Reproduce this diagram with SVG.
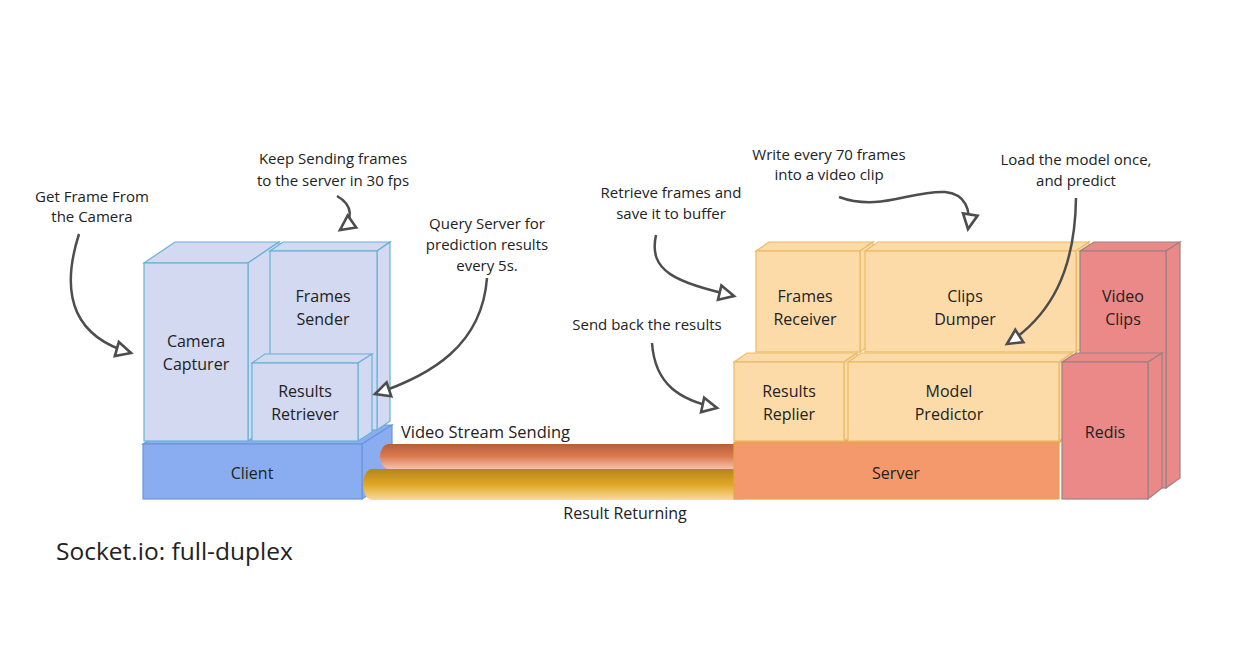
<svg xmlns="http://www.w3.org/2000/svg" width="1250" height="663" viewBox="0 0 1250 663">
<defs>
<style>
text{font-family:"Open Sans","Noto Sans","Liberation Sans",sans-serif;fill:#222}
.lbl{font-size:16px;text-anchor:middle}
.ann{font-size:15px;text-anchor:middle}
.blue{fill:#D2D9F0;stroke:#66B2D6;stroke-width:1.2}
.client{fill:#8AADF1;stroke:#6D93DA;stroke-width:1.2}
.peach{fill:#FCDBA9;stroke:#E9BB66;stroke-width:1.2}
.server{fill:#F4996B;stroke:#E8A24C;stroke-width:1.2}
.red{fill:#EB8888;stroke:#9A8282;stroke-width:1.2}
.conn{fill:none;stroke:#4D4D4D;stroke-width:2.5;marker-end:url(#ah)}
</style>
<marker id="ah" viewBox="0 0 20 20" refX="17" refY="10" markerWidth="21" markerHeight="21" markerUnits="userSpaceOnUse" orient="auto">
<path d="M3,3 L17,10 L3,17 Z" fill="#fff" stroke="#4D4D4D" stroke-width="2.5" stroke-linejoin="miter"/>
</marker>
<linearGradient id="gOrange" x1="0" y1="0" x2="0" y2="1">
<stop offset="0" stop-color="#B4603A"/>
<stop offset="0.5" stop-color="#DD7A50"/>
<stop offset="1" stop-color="#F6C2AE"/>
</linearGradient>
<linearGradient id="gYellow" x1="0" y1="0" x2="0" y2="1">
<stop offset="0" stop-color="#B5851C"/>
<stop offset="0.5" stop-color="#DFA724"/>
<stop offset="1" stop-color="#F9DA9C"/>
</linearGradient>
</defs>
<rect width="1250" height="663" fill="#fff"/>

<g id="client">
<polygon class="client" points="143,444 173,425 392,425 362,444"/>
<polygon class="client" points="362,444 392,425 392,480 362,499"/>
<rect class="client" x="143" y="444" width="219" height="55"/>
<text class="lbl" x="252" y="479">Client</text>
</g>

<g id="pipes">
<rect x="380" y="444" width="370" height="25" rx="9" ry="12.5" fill="url(#gOrange)"/>
<rect x="363" y="469" width="387" height="31" rx="9" ry="15.5" fill="url(#gYellow)"/>
</g>

<g id="camera-capturer">
<polygon class="blue" points="144,263 175,242 279,242 248,263"/>
<polygon class="blue" points="248,263 279,242 279,420 248,441"/>
<rect class="blue" x="144" y="263" width="104" height="178"/>
<text class="lbl" x="196" y="347">Camera</text>
<text class="lbl" x="196" y="370">Capturer</text>
</g>

<g id="frames-sender">
<polygon class="blue" points="270,251 283,242 390,242 377,251"/>
<polygon class="blue" points="377,251 390,242 390,421 377,430"/>
<rect class="blue" x="270" y="251" width="107" height="179"/>
<text class="lbl" x="323" y="302">Frames</text>
<text class="lbl" x="323" y="325">Sender</text>
</g>

<g id="results-retriever">
<polygon class="blue" points="252,363 265,354 372,354 358,363"/>
<polygon class="blue" points="358,363 372,354 372,432 358,441"/>
<rect class="blue" x="252" y="363" width="106" height="78"/>
<text class="lbl" x="305" y="397">Results</text>
<text class="lbl" x="305" y="420">Retriever</text>
</g>

<g id="server">
<polygon class="server" points="734,443 737,440 1062,440 1059,443"/>
<rect class="server" x="734" y="443" width="325" height="56"/>
<text class="lbl" x="896" y="479">Server</text>
</g>

<g id="frames-receiver">
<polygon class="peach" points="756,251 769,242 873,242 860,251"/>
<polygon class="peach" points="860,251 873,242 873,343 860,352"/>
<rect class="peach" x="756" y="251" width="104" height="101"/>
<text class="lbl" x="805" y="302">Frames</text>
<text class="lbl" x="805" y="325">Receiver</text>
</g>

<g id="clips-dumper">
<polygon class="peach" points="865,251 878,242 1089,242 1076,251"/>
<polygon class="peach" points="1076,251 1089,242 1089,343 1076,352"/>
<rect class="peach" x="865" y="251" width="211" height="101"/>
<text class="lbl" x="965" y="302">Clips</text>
<text class="lbl" x="965" y="325">Dumper</text>
</g>

<g id="results-replier">
<polygon class="peach" points="734,362 747,353 857,353 844,362"/>
<polygon class="peach" points="844,362 857,353 857,432 844,441"/>
<rect class="peach" x="734" y="362" width="110" height="79"/>
<text class="lbl" x="789" y="397">Results</text>
<text class="lbl" x="789" y="420">Replier</text>
</g>

<g id="model-predictor">
<polygon class="peach" points="848,362 861,353 1072,353 1059,362"/>
<polygon class="peach" points="1059,362 1072,353 1072,432 1059,441"/>
<rect class="peach" x="848" y="362" width="211" height="79"/>
<text class="lbl" x="949" y="397">Model</text>
<text class="lbl" x="949" y="420">Predictor</text>
</g>

<g id="video-clips">
<polygon class="red" points="1080,251 1094,242 1180,242 1166,251"/>
<polygon class="red" points="1166,251 1180,242 1180,478 1166,488"/>
<rect class="red" x="1080" y="251" width="86" height="237"/>
<text class="lbl" x="1123" y="302">Video</text>
<text class="lbl" x="1123" y="325">Clips</text>
</g>

<g id="redis">
<polygon class="red" points="1062,362 1076,353 1162,353 1148,362"/>
<polygon class="red" points="1148,362 1162,353 1162,488 1148,499"/>
<rect class="red" x="1062" y="362" width="86" height="137"/>
<text class="lbl" x="1105" y="438">Redis</text>
</g>

<g id="connectors">
<path class="conn" d="M79,234 C58,300 78,338 131,353"/>
<path class="conn" d="M337,196 C353,205 354,220 340,230"/>
<path class="conn" d="M487,278 C482,345 432,375 375,394"/>
<path class="conn" d="M656,235 C648,272 676,282 734,296"/>
<path class="conn" d="M839,197 C880,212 912,190 945,192 C966,194 971,210 968,229"/>
<path class="conn" d="M1076,198 C1075,272 1050,316 1007,344"/>
<path class="conn" d="M652,343 C655,385 680,400 717,408"/>
</g>

<g id="annotations">
<text class="ann" x="92" y="202">Get Frame From</text>
<text class="ann" x="92" y="222">the Camera</text>
<text class="ann" x="333" y="164">Keep Sending frames</text>
<text class="ann" x="333" y="186">to the server in 30 fps</text>
<text class="ann" x="487" y="229">Query Server for</text>
<text class="ann" x="487" y="250">prediction results</text>
<text class="ann" x="487" y="271">every 5s.</text>
<text class="ann" x="671" y="198">Retrieve frames and</text>
<text class="ann" x="671" y="219">save it to buffer</text>
<text class="ann" x="829" y="160">Write every 70 frames</text>
<text class="ann" x="829" y="180">into a video clip</text>
<text class="ann" x="1076" y="165">Load the model once,</text>
<text class="ann" x="1076" y="186">and predict</text>
<text class="ann" x="647" y="330">Send back the results</text>
<text x="401" y="438" style="font-size:16.5px">Video Stream Sending</text>
<text class="lbl" x="625" y="519">Result Returning</text>
<text x="56" y="560" style="font-size:24.5px">Socket.io: full-duplex</text>
</g>
</svg>
